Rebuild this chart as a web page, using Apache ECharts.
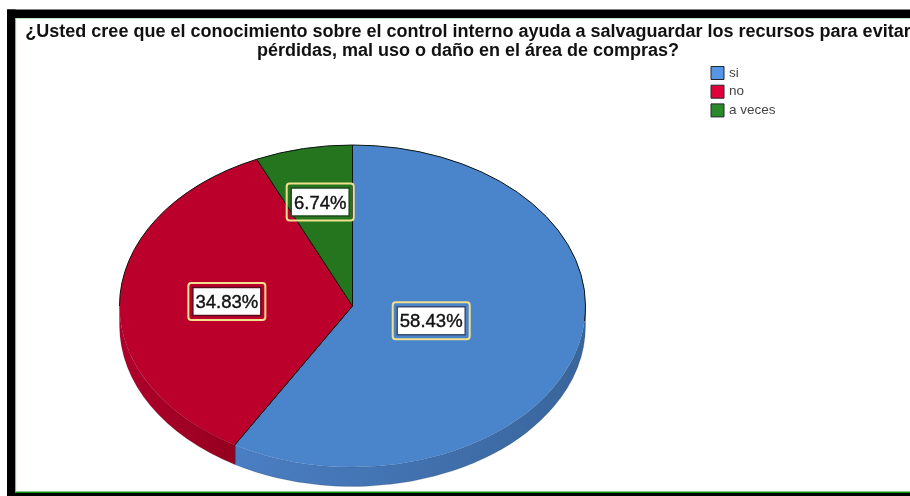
<!DOCTYPE html>
<html>
<head>
<meta charset="utf-8">
<style>
  html, body { margin: 0; padding: 0; background: #fff; }
  #chart { width: 910px; height: 496px; }
</style>
<script src="https://cdn.jsdelivr.net/npm/echarts@6/dist/echarts.min.js"></script>
</head>
<body>
<div id="chart"></div>
<script>
const chartTitle = '¿Usted cree que el conocimiento sobre el control interno ayuda a salvaguardar los recursos para evitar\npérdidas, mal uso o daño en el área de compras?';
const categories = ['si', 'no', 'a veces'];
const percentages = [58.43, 34.83, 6.74];
const swatchColors = ['#5596e6', '#e0003c', '#2a8a2a'];
const faceColors = ['#4a84cb', '#bb002b', '#25751f'];
const wallStops = [['#39659b', '#4a7ec3'], ['#94001f', '#b0002b'], ['#1c5a18', '#1c5a18']];
const labelEdges = ['#3d4f6e', '#5e0a1e', '#1e4a1c'];
const labelRadii = [0.35, 0.54, 0.66];

// Tilted-disc geometry: centre, radii of the top ellipse and height of the wall.
const disc = { cx: 352.5, cy: 306, rx: 233, ry: 161, depth: 19.5 };
const total = percentages.reduce((a, b) => a + b, 0);

function sliceRange(i) {
  const before = percentages.slice(0, i).reduce((a, b) => a + b, 0);
  return [before / total * Math.PI * 2, (before + percentages[i]) / total * Math.PI * 2];
}
// Angles run clockwise from twelve o'clock.
function rimPoint(t, dy) {
  return [disc.cx + disc.rx * Math.sin(t), disc.cy - disc.ry * Math.cos(t) + (dy || 0)];
}
function arcTo(t0, t1, dy) {
  const p = rimPoint(t1, dy);
  const large = Math.abs(t1 - t0) > Math.PI ? 1 : 0;
  const sweep = t1 > t0 ? 1 : 0;
  return `A${disc.rx} ${disc.ry} 0 ${large} ${sweep} ${p[0]} ${p[1]}`;
}
function facePath(t0, t1) {
  const p = rimPoint(t0);
  return `M${disc.cx} ${disc.cy}L${p[0]} ${p[1]}${arcTo(t0, t1)}Z`;
}
function wallPath(t0, t1) {
  const a = rimPoint(t0), d = rimPoint(t1, disc.depth);
  return `M${a[0]} ${a[1]}${arcTo(t0, t1)}L${d[0]} ${d[1]}${arcTo(t1, t0, disc.depth)}Z`;
}
// Black outline: the spokes of a slice and the part of its arc on the back half.
function outlinePath(t0, t1) {
  const a = rimPoint(t0), b = rimPoint(t1);
  let d = `M${a[0]} ${a[1]}L${disc.cx} ${disc.cy}L${b[0]} ${b[1]}`;
  const back = [[0, Math.PI * 0.53], [Math.PI * 1.5, Math.PI * 2]];
  back.forEach(([s, e]) => {
    const lo = Math.max(s, t0), hi = Math.min(e, t1);
    if (hi > lo) {
      const p = rimPoint(lo);
      d += `M${p[0]} ${p[1]}${arcTo(lo, hi)}`;
    }
  });
  return d;
}

function renderSlice(i, params, api) {
  const value = api.value(0);
  const [t0, t1] = sliceRange(i);
  const children = [];
  const front0 = Math.max(t0, Math.PI / 2), front1 = Math.min(t1, Math.PI * 1.5);
  if (front1 > front0) {
    const xa = rimPoint(front0)[0], xb = rimPoint(front1)[0];
    children.push({
      type: 'path',
      shape: { pathData: wallPath(front0, front1) },
      style: {
        stroke: 'rgba(20,30,50,0.25)',
        lineWidth: 0.7,
        fill: {
          type: 'linear', global: true,
          x: Math.max(xa, xb), y: 0, x2: Math.min(xa, xb), y2: 0,
          colorStops: [
            { offset: 0, color: wallStops[i][0] },
            { offset: 1, color: wallStops[i][1] }
          ]
        }
      }
    });
  }
  children.push({ type: 'path', shape: { pathData: facePath(t0, t1) }, style: { fill: faceColors[i] } });
  children.push({
    type: 'path',
    shape: { pathData: outlinePath(t0, t1) },
    style: { fill: null, stroke: '#0c1410', lineWidth: 1 }
  });
  // Seam where the slice's closing spoke meets the wall.
  if (t1 > Math.PI / 2 && t1 < Math.PI * 1.5) {
    const a = rimPoint(t1), b = rimPoint(t1, disc.depth - 1);
    children.push({
      type: 'line',
      shape: { x1: a[0], y1: a[1], x2: b[0], y2: b[1] },
      style: { stroke: '#2c3a58', lineWidth: 1.2 }
    });
  }
  // Value label placed along the slice's bisector.
  const mid = (t0 + t1) / 2;
  const lx = disc.cx + disc.rx * labelRadii[i] * Math.sin(mid);
  const ly = disc.cy - disc.ry * labelRadii[i] * Math.cos(mid);
  const text = value.toFixed(2) + '%';
  const w = text.length * 10 + 8, h = 28;
  children.push({
    type: 'rect',
    shape: { x: lx - w / 2 - 4.5, y: ly - h / 2 - 4.5, width: w + 9, height: h + 9, r: 3 },
    style: { fill: null, stroke: '#f2e08e', lineWidth: 2 }
  });
  children.push({
    type: 'rect',
    shape: { x: lx - w / 2, y: ly - h / 2, width: w, height: h },
    style: { fill: '#ffffff', stroke: labelEdges[i], lineWidth: 1.5 }
  });
  children.push({
    type: 'text',
    style: {
      x: lx, y: ly + 1.5, text,
      fill: '#111111', stroke: '#111111', lineWidth: 0.4,
      align: 'center', verticalAlign: 'middle',
      font: '18.5px "Liberation Sans", Arial, sans-serif'
    }
  });
  return { type: 'group', children };
}

// Picture frame around the plot area.
const frame = [
  { type: 'rect', shape: { x: 7, y: 9.5, width: 903, height: 8.5 }, style: { fill: '#000' } },
  { type: 'rect', shape: { x: 7, y: 9.5, width: 8.5, height: 486.5 }, style: { fill: '#000' } },
  { type: 'rect', shape: { x: 7, y: 493, width: 903, height: 3 }, style: { fill: '#000' } },
  { type: 'rect', shape: { x: 15.5, y: 491.5, width: 895, height: 1.5 }, style: { fill: '#128c12' } },
  { type: 'rect', shape: { x: 15.5, y: 18, width: 895, height: 0.7 }, style: { fill: '#a8dca8' } },
  { type: 'rect', shape: { x: 15.5, y: 18, width: 0.7, height: 474 }, style: { fill: '#a8dca8' } }
];

const chart = echarts.init(document.getElementById('chart'), null, { renderer: 'canvas' });
chart.setOption({
  animation: false,
  backgroundColor: '#ffffff',
  title: {
    text: chartTitle,
    left: 468, top: 23, textAlign: 'center', padding: 0,
    textStyle: {
      fontFamily: '"Liberation Sans", Arial, sans-serif',
      fontSize: 18, fontWeight: 'bold', color: '#111111', lineHeight: 19
    }
  },
  legend: {
    orient: 'vertical', left: 710.5, top: 65.5, padding: 0,
    itemWidth: 13, itemHeight: 13, itemGap: 3.7,
    icon: 'rect',
    selectedMode: false,
    textStyle: { fontFamily: '"Liberation Sans", Arial, sans-serif', fontSize: 13.5, color: '#444444', lineHeight: 15 },
    data: categories.map((name, i) => ({
      name,
      itemStyle: { color: swatchColors[i], borderColor: '#22262c', borderWidth: 1 }
    }))
  },
  graphic: { elements: frame.map(e => Object.assign({ z: 100 }, e)) },
  series: categories.map((name, i) => ({
    type: 'custom',
    name,
    coordinateSystem: 'none',
    data: [[percentages[i]]],
    itemStyle: { color: swatchColors[i] },
    z: 2 + i,
    renderItem: (params, api) => renderSlice(i, params, api)
  }))
});
</script>
</body>
</html>
